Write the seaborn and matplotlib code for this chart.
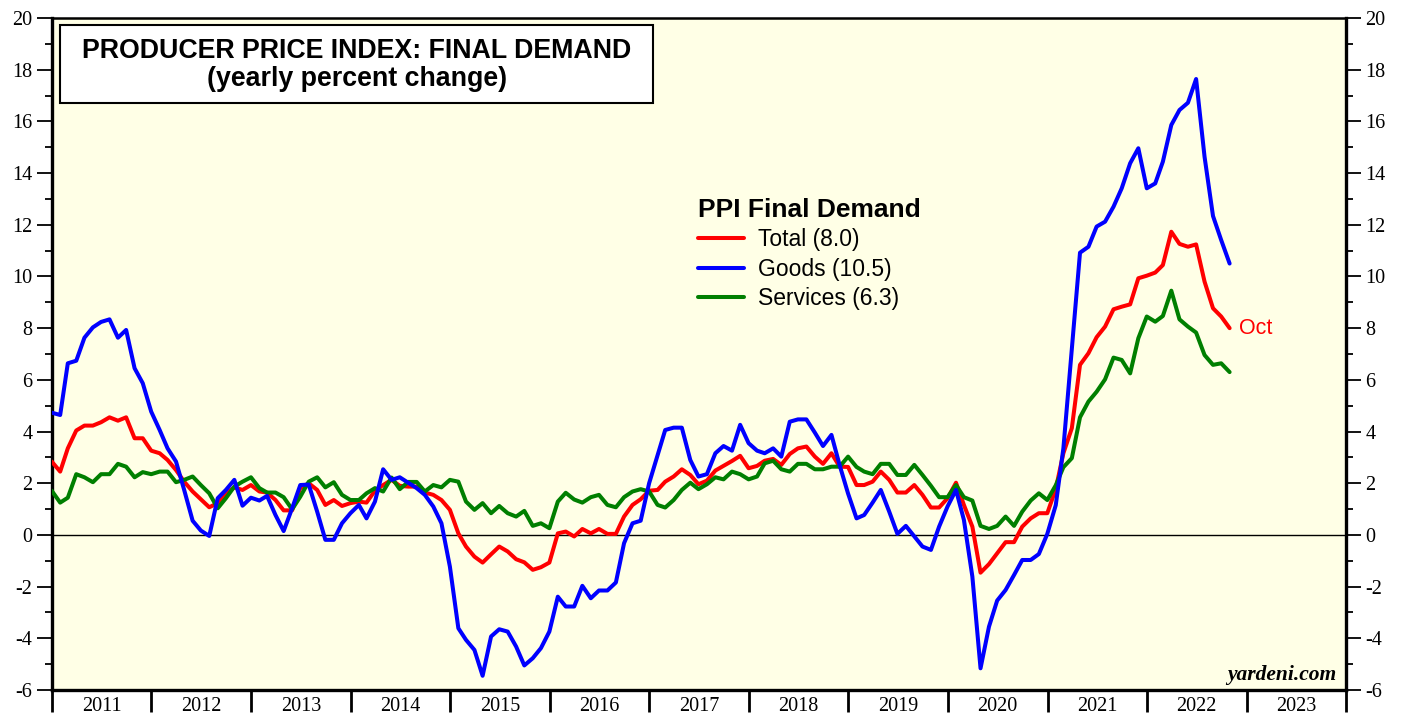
import numpy as np
import pandas as pd
import matplotlib
matplotlib.use("Agg")
import matplotlib.pyplot as plt
import matplotlib.dates as mdates
from matplotlib.patches import Rectangle
from matplotlib.lines import Line2D
import seaborn as sns

# ---------------- data (yearly % change, month-end, Dec 2010 .. Oct 2022) ----------------
months = pd.date_range("2010-12-31", periods=143, freq="ME")

total = [2.84, 2.45, 3.35, 4.04, 4.23, 4.23, 4.36, 4.55, 4.42, 4.55, 3.74, 3.74,
         3.26, 3.16, 2.90, 2.51, 2.06, 1.68, 1.38, 1.07, 1.23, 1.61, 1.84, 1.74,
         1.93, 1.68, 1.64, 1.35, 0.95, 0.95, 1.81, 2.00, 1.74, 1.16, 1.35, 1.12,
         1.23, 1.29, 1.25, 1.71, 1.93, 2.13, 1.90, 1.87, 1.87, 1.64, 1.55, 1.35,
         0.97, 0.06, -0.45, -0.84, -1.07, -0.75, -0.45, -0.64, -0.94, -1.06, -1.35, -1.25,
         -1.07, 0.06, 0.13, -0.06, 0.23, 0.06, 0.23, 0.04, 0.04, 0.71, 1.16, 1.38,
         1.71, 1.74, 2.06, 2.26, 2.54, 2.32, 1.96, 2.10, 2.49, 2.67, 2.86, 3.06,
         2.58, 2.67, 2.87, 2.94, 2.71, 3.13, 3.35, 3.42, 3.03, 2.75, 3.16, 2.64,
         2.63, 1.93, 1.93, 2.06, 2.45, 2.13, 1.64, 1.64, 1.93, 1.55, 1.06, 1.06,
         1.42, 2.02, 1.16, 0.32, -1.46, -1.13, -0.71, -0.28, -0.28, 0.32, 0.64, 0.84,
         0.84, 1.78, 3.16, 4.13, 6.58, 7.03, 7.65, 8.06, 8.73, 8.83, 8.92, 9.93,
         10.03, 10.15, 10.44, 11.73, 11.26, 11.15, 11.24, 9.80, 8.77, 8.45, 8.0]

goods = [4.73, 4.64, 6.64, 6.74, 7.63, 8.03, 8.24, 8.34, 7.63, 7.93, 6.45, 5.87,
         4.77, 4.06, 3.35, 2.84, 1.74, 0.55, 0.17, -0.04, 1.42, 1.74, 2.13, 1.13,
         1.44, 1.33, 1.51, 0.77, 0.15, 1.03, 1.93, 1.95, 0.90, -0.19, -0.19, 0.45,
         0.84, 1.16, 0.64, 1.29, 2.54, 2.13, 2.23, 2.02, 1.81, 1.55, 1.10, 0.45,
         -1.23, -3.61, -4.06, -4.45, -5.45, -3.93, -3.65, -3.74, -4.32, -5.05, -4.77, -4.38,
         -3.74, -2.39, -2.77, -2.77, -1.97, -2.45, -2.15, -2.15, -1.84, -0.32, 0.45, 0.55,
         2.00, 3.09, 4.06, 4.15, 4.15, 2.90, 2.26, 2.35, 3.16, 3.44, 3.26, 4.26,
         3.55, 3.26, 3.16, 3.35, 3.03, 4.38, 4.47, 4.47, 3.96, 3.44, 3.87, 2.70,
         1.60, 0.64, 0.77, 1.25, 1.74, 0.90, 0.04, 0.35, -0.06, -0.45, -0.58, 0.32,
         1.10, 1.74, 0.58, -1.61, -5.16, -3.55, -2.54, -2.13, -1.55, -0.97, -0.97, -0.74,
         0.04, 1.15, 3.35, 7.20, 10.92, 11.15, 11.93, 12.12, 12.70, 13.41, 14.38, 14.96,
         13.41, 13.60, 14.44, 15.86, 16.44, 16.72, 17.64, 14.63, 12.34, 11.41, 10.5]

services = [1.71, 1.25, 1.44, 2.35, 2.23, 2.04, 2.35, 2.35, 2.75, 2.64, 2.23, 2.43,
            2.35, 2.45, 2.45, 2.04, 2.13, 2.26, 1.93, 1.61, 1.03, 1.42, 1.87, 2.06,
            2.23, 1.81, 1.64, 1.64, 1.46, 0.99, 1.48, 2.06, 2.23, 1.84, 2.04, 1.55,
            1.35, 1.35, 1.61, 1.81, 1.68, 2.22, 1.77, 2.05, 2.05, 1.68, 1.93, 1.84,
            2.13, 2.06, 1.29, 0.97, 1.23, 0.84, 1.12, 0.84, 0.71, 0.93, 0.35, 0.45,
            0.26, 1.29, 1.63, 1.37, 1.25, 1.46, 1.55, 1.16, 1.07, 1.46, 1.68, 1.77,
            1.68, 1.16, 1.06, 1.35, 1.74, 2.02, 1.77, 1.96, 2.23, 2.15, 2.45, 2.35,
            2.15, 2.26, 2.77, 2.87, 2.54, 2.45, 2.75, 2.75, 2.54, 2.54, 2.64, 2.64,
            3.03, 2.63, 2.45, 2.35, 2.75, 2.75, 2.32, 2.32, 2.71, 2.32, 1.90, 1.46,
            1.46, 1.93, 1.46, 1.33, 0.35, 0.23, 0.35, 0.71, 0.35, 0.90, 1.33, 1.61,
            1.35, 1.92, 2.62, 2.97, 4.55, 5.16, 5.54, 6.02, 6.86, 6.77, 6.25, 7.61,
            8.45, 8.25, 8.47, 9.45, 8.34, 8.06, 7.83, 6.96, 6.58, 6.64, 6.3]

series_names = ["Total", "Goods", "Services"]
year_labels = [str(y) for y in range(2011, 2024)]
title_lines = ["PRODUCER PRICE INDEX: FINAL DEMAND", "(yearly percent change)"]
legend_title = "PPI Final Demand"
last_label = "Oct"

# ---------------- style ----------------
sns.set_style("white")
plt.rcParams["font.family"] = ["Liberation Serif", "DejaVu Serif"]
plt.rcParams["axes.unicode_minus"] = False
for k in ["text.color", "axes.labelcolor", "xtick.color", "ytick.color", "axes.edgecolor"]:
    plt.rcParams[k] = "black"
SANS = ["Liberation Sans", "DejaVu Sans"]

W, H = 1407, 723
fig = plt.figure(figsize=(W / 100, H / 100), dpi=100)
fig.patch.set_facecolor("white")
L, R, T, B = 52, 1346, 18, 690
ax = fig.add_axes([L / W, 1 - B / H, (R - L) / W, (B - T) / H])
ax.set_facecolor("#FFFFE6")

palette = {"Total": "#FF0000", "Goods": "#0000FF", "Services": "#007F00"}

df = pd.DataFrame({"date": months, "Total": total, "Goods": goods, "Services": services})
long = df.melt(id_vars="date", var_name="series", value_name="value")

ax.axhline(0, color="black", lw=1.0, zorder=1)
sns.lineplot(data=long, x="date", y="value", hue="series",
             hue_order=["Total", "Services", "Goods"], palette=palette,
             lw=2.9, ax=ax, legend=False, sort=False, zorder=3)

# ---------------- axes ----------------
ax.set_xlim(pd.Timestamp("2011-01-01"), pd.Timestamp("2024-01-01"))
ax.set_ylim(-6, 20)
ax.set_xlabel("")
ax.set_ylabel("")

ax.xaxis.set_major_locator(mdates.YearLocator())
ax.xaxis.set_major_formatter(plt.NullFormatter())
mids = [pd.Timestamp(f"{y}-07-02") for y in range(2011, 2024)]
ax.set_xticks(mids, minor=True)
ax.set_xticklabels(year_labels, minor=True)
ax.tick_params(axis="x", which="major", length=16, width=2.0, direction="out", color="black", bottom=True)
ax.tick_params(axis="x", which="minor", length=0, pad=5, labelsize=14.5, bottom=True, labelcolor="black")

ax.set_yticks(range(-6, 21, 2))
ax.set_yticks(range(-5, 20, 2), minor=True)
ax.yaxis.set_major_formatter(matplotlib.ticker.FormatStrFormatter("%d"))
ax.tick_params(axis="y", which="both", left=True, right=True, labelleft=True, labelright=True,
               direction="out", color="black", labelcolor="black", labelsize=14.5, pad=3)
ax.tick_params(axis="y", which="major", length=11, width=1.3)
ax.tick_params(axis="y", which="minor", length=5, width=1.3)

for s in ["left", "right", "bottom", "top"]:
    ax.spines[s].set_visible(True)
    ax.spines[s].set_color("black")
ax.spines["left"].set_linewidth(2.4)
ax.spines["bottom"].set_linewidth(2.4)
ax.spines["right"].set_linewidth(2.4)
ax.spines["top"].set_linewidth(1.8)
ax.grid(False)

# ---------------- title box ----------------
ax.add_patch(Rectangle((60 / W, 1 - 103 / H), (653 - 60) / W, (103 - 25) / H,
                       transform=fig.transFigure, facecolor="white", edgecolor="black",
                       lw=1.5, zorder=6))
fig.text(357 / W, 1 - 51 / H, title_lines[0], ha="center", va="center", color="black",
         family=SANS, weight="bold", size=19.3, zorder=7)
fig.text(357 / W, 1 - 79 / H, title_lines[1], ha="center", va="center", color="black",
         family=SANS, weight="bold", size=19.3, zorder=7)

# ---------------- legend ----------------
handles = [Line2D([], [], color=palette[s], lw=2.9) for s in series_names]
labels = [f"Total ({total[-1]:.1f})", f"Goods ({goods[-1]:.1f})", f"Services ({services[-1]:.1f})"]
leg = ax.legend(handles, labels, title=legend_title, loc="upper left",
                bbox_to_anchor=(698 / W, 1 - 198 / H), bbox_transform=fig.transFigure,
                frameon=False, prop={"family": SANS, "size": 16.5},
                title_fontproperties={"family": SANS, "weight": "bold", "size": 19},
                handlelength=2.0, handletextpad=0.6, labelspacing=0.28,
                alignment="left", borderaxespad=0, borderpad=0)
leg.get_title().set_color("black")
for t in leg.get_texts():
    t.set_color("black")

# ---------------- annotations ----------------
ax.annotate(last_label, xy=(months[-1], total[-1]), xytext=(7, 0), textcoords="offset points",
            ha="left", va="center", color="#FF0000", family=SANS, size=15.5)
fig.text(1336 / W, 1 - 675 / H, "yardeni.com", ha="right", va="center", color="black",
         family=["Liberation Serif"], style="italic", weight="bold", size=15.5)

fig.savefig("out.png", dpi=100, facecolor="white")
